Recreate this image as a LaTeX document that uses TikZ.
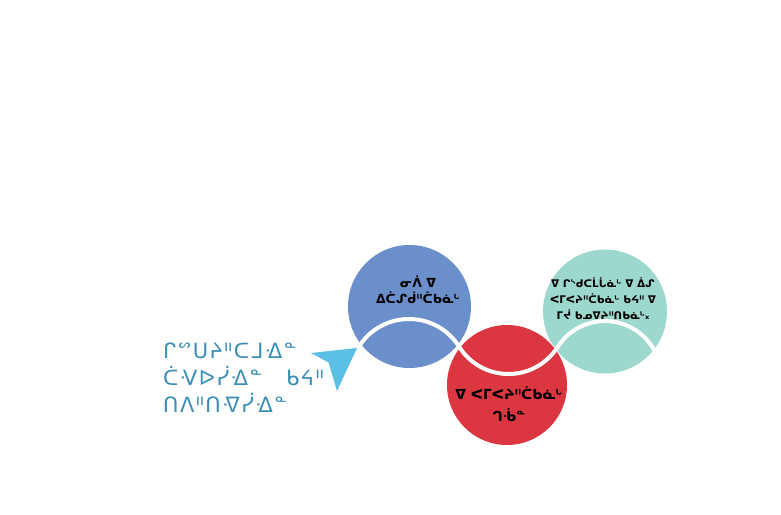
\documentclass[tikz,border=0pt]{standalone}
\usepackage{fontspec}
\setmainfont{DejaVu Sans}
\usetikzlibrary{positioning}
\definecolor{circblue}{HTML}{6B8FCB}
\definecolor{circred}{HTML}{DC3740}
\definecolor{circteal}{HTML}{9DD8CE}
\definecolor{arrowblue}{HTML}{5BC0E3}
\definecolor{textblue}{HTML}{3A8DB3}
\tikzset{
    mycircle/.style = {circle, draw=none, inner sep=0pt},
    mycircleb/.style = {mycircle, fill=circblue, minimum size=123pt},
    mycircler/.style = {mycircle, fill=circred, minimum size=120pt},
    mycircleg/.style = {mycircle, fill=circteal, minimum size=124pt},
    mytextb/.style = {align=center, inner sep=0pt, text=black, font=\bfseries\fontsize{12.5}{16}\selectfont},
    mytextr/.style = {align=center, inner sep=0pt, text=black, font=\bfseries\fontsize{13.8}{22}\selectfont},
    mytextg/.style = {align=center, inner sep=0pt, text=black, font=\bfseries\fontsize{10.5}{16}\selectfont},
    mytextl/.style = {align=left, inner sep=0pt, text=textblue, font=\fontsize{21}{27}\selectfont\addfontfeature{LetterSpace=7}},
    wave/.style = {line width=4pt, white}, % white band through the circles
    pointer/.style = {fill=arrowblue}
}
\begin{document}
\begin{tikzpicture}[x=1pt, y=1pt]
  \useasboundingbox (0,0) rectangle (781,514);

  \node[mycircleb] (water) at (409.5,207.5) {};
  \node[mycircler] (run) at (507,129) {};
  \node[mycircleg] (keep) at (605,202.5) {};

  % centres of the three arcs of the band
  \coordinate (wa) at (409,135.7);
  \coordinate (wb) at (508.5,198.2);
  \coordinate (wc) at (605,136.8);
  \draw[wave] ([shift=(160:59.3)]wa) arc[start angle=160, end angle=30.7, radius=59.3]
    arc[start angle=213.6, end angle=326.4, radius=58.2]
    arc[start angle=148.7, end angle=20, radius=56.2];

  \node[mytextb] (waterlbl) at ([shift={(8.5,16.5)}]water) {ᓂᐲ ᐁ\\ᐃᑖᔑᑰᐦᑖᑲᓈᒡ};
  \node[mytextr] (runlbl) at ([shift={(2,-19.5)}]run) {ᐁ ᐸᒥᐸᔨᐦᑖᑲᓈᒡ\\ᒉᒀᓐ};
  \node[mytextg] (keeplbl) at ([shift={(-2,12.5)}]keep) {ᐁ ᒋᔅᑯᑕᒫᒑᓈᒡ ᐁ ᐄᔑ\\ᐸᒥᐸᔨᐦᑖᑲᓈᒡ ᑲᔦᐦ ᐁ\\ᒥᔫ ᑲᓄᐁᔨᐦᑎᑲᓈᒡ᙮};

  \node[mytextl, anchor=west] (respect) at (163,136.5) {ᒋᔥᑌᔨᐦᑕᒧᐎᓐ\\ᑖᐺᐅᓰᐎᓐ \hspace{0.75em}ᑲᔦᐦ\\ᑎᐱᐦᑎᐌᓰᐎᓐ};

  % pointer towards the first circle
  \coordinate (pl) at (311,161);
  \coordinate (pt) at (357,166);
  \coordinate (pb) at (337,123);
  \coordinate (pn) at (328.5,151.5);
  \fill[pointer] (pl) -- (pt) -- (pb) -- (pn) -- cycle;
\end{tikzpicture}
\end{document}
